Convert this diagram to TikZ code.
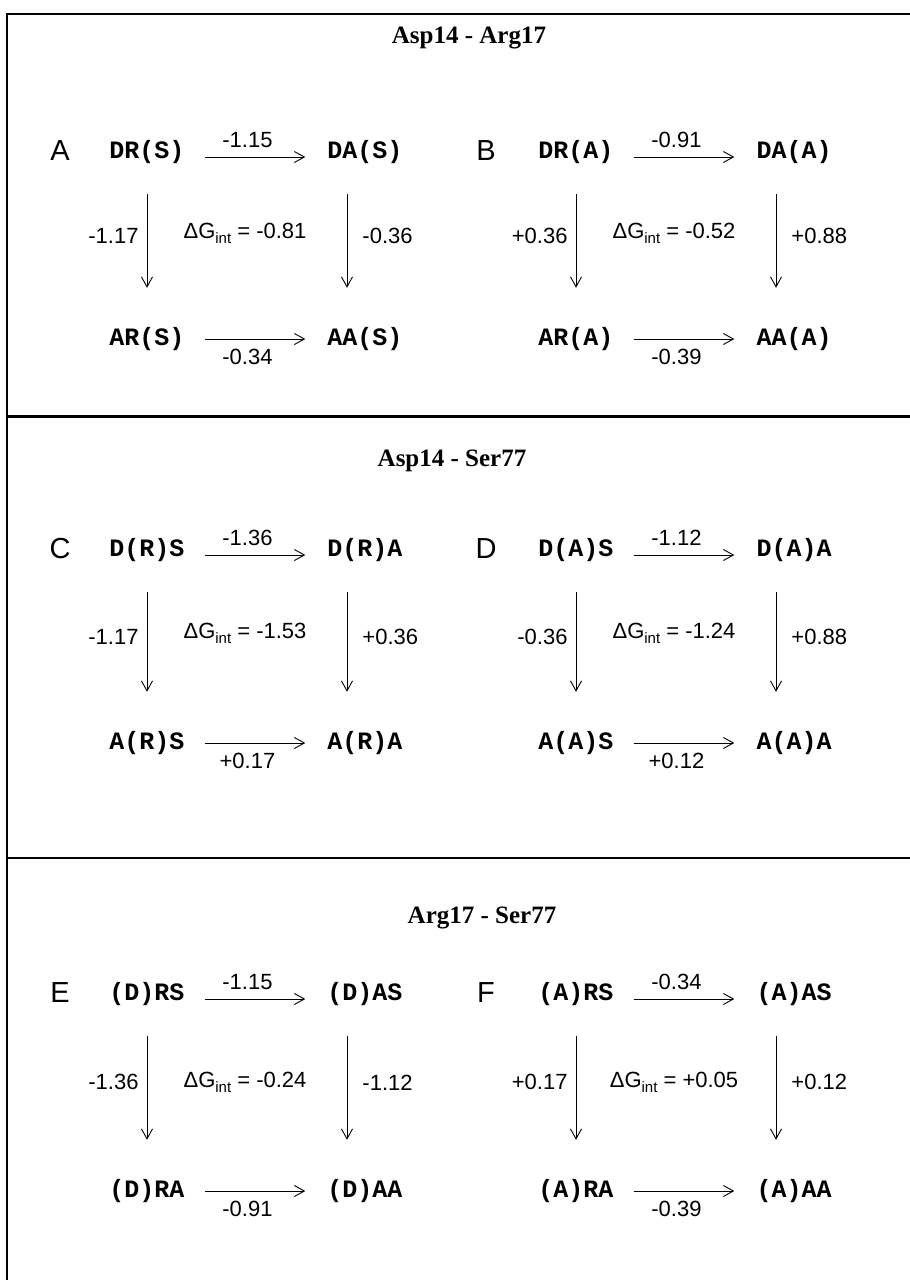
\documentclass[tikz,border=0pt]{standalone}
\usepackage{fontspec}
\setmainfont{Liberation Serif}
\newfontfamily\helv{Liberation Sans}
\newfontfamily\cour{Liberation Mono}
\usetikzlibrary{arrows.meta}
\newcommand{\dGint}{ΔG\raisebox{-5pt}{\fontsize{15pt}{15pt}\selectfont int}}

\begin{document}
\begin{tikzpicture}[x=1pt,y=-1pt,
  st/.style={inner sep=0pt,font=\cour\bfseries\fontsize{25pt}{25pt}\selectfont,text height=14pt,text depth=0pt},
  lett/.style={inner sep=0pt,font=\helv\fontsize{29pt}{29pt}\selectfont},
  num/.style={inner sep=0pt,font=\helv\fontsize{22pt}{22pt}\selectfont},
  ttl/.style={inner sep=0pt,font=\bfseries\fontsize{25pt}{25pt}\selectfont},
  harr/.style={-{Straight Barb[length=10pt,width=11pt]},line width=0.9pt,shorten <=20pt,shorten >=22pt},
  varr/.style={-{Straight Barb[length=10pt,width=11pt]},line width=0.9pt,shorten <=36pt,shorten >=43pt},
  uplbl/.style={num,pos=0.44,anchor=south,yshift=9pt},
  dnlbl/.style={num,pos=0.44,anchor=north,yshift=-10pt},
  lflbl/.style={num,pos=0.45,anchor=east,xshift=-8pt},
  rtlbl/.style={num,pos=0.45,anchor=west,xshift=15pt}]
\useasboundingbox (0,0) rectangle (910,1280);
% frame and dividers
\draw[line width=2.3pt] (7,1280) -- (7,14) -- (910,14);
\draw[line width=3pt] (7,416) -- (910,416);
\draw[line width=2pt] (7,858) -- (910,858);

% Asp14 - Arg17
\node[ttl] (t1) at (469,38) {Asp14 - Arg17};
\node[lett] (labA) at (60,151) {A};
\node[st] (a1) at (147,151) {DR(S)};
\node[st] (a2) at (365,151) {DA(S)};
\node[st] (a3) at (147,338) {AR(S)};
\node[st] (a4) at (365,338) {AA(S)};
\draw[harr] ([yshift=-6pt]a1.east) -- node[uplbl] {-1.15} ([yshift=-6pt]a2.west);
\draw[harr] ([yshift=-1pt]a3.east) -- node[dnlbl] {-0.34} ([yshift=-1pt]a4.west);
\draw[varr] (a1.south) -- node[lflbl] {-1.17} (a3.north);
\draw[varr] ([xshift=-18pt]a2.south) -- node[rtlbl] {-0.36} ([xshift=-18pt]a4.north);
\node[num] (gA) at (245,233) {\dGint{} = -0.81};

\node[lett] (labB) at (486,151) {B};
\node[st] (b1) at (576,151) {DR(A)};
\node[st] (b2) at (794,151) {DA(A)};
\node[st] (b3) at (576,338) {AR(A)};
\node[st] (b4) at (794,338) {AA(A)};
\draw[harr] ([yshift=-6pt]b1.east) -- node[uplbl] {-0.91} ([yshift=-6pt]b2.west);
\draw[harr] ([yshift=-1pt]b3.east) -- node[dnlbl] {-0.39} ([yshift=-1pt]b4.west);
\draw[varr] (b1.south) -- node[lflbl] {+0.36} (b3.north);
\draw[varr] ([xshift=-18pt]b2.south) -- node[rtlbl] {+0.88} ([xshift=-18pt]b4.north);
\node[num] (gB) at (674,233) {\dGint{} = -0.52};

% Asp14 - Ser77
\node[ttl] (t2) at (452,461) {Asp14 - Ser77};
\node[lett] (labC) at (60,549) {C};
\node[st] (c1) at (147,549) {D(R)S};
\node[st] (c2) at (365,549) {D(R)A};
\node[st] (c3) at (147,742) {A(R)S};
\node[st] (c4) at (365,742) {A(R)A};
\draw[harr] ([yshift=-6pt]c1.east) -- node[uplbl] {-1.36} ([yshift=-6pt]c2.west);
\draw[harr] ([yshift=-1pt]c3.east) -- node[dnlbl] {+0.17} ([yshift=-1pt]c4.west);
\draw[varr] (c1.south) -- node[lflbl] {-1.17} (c3.north);
\draw[varr] ([xshift=-18pt]c2.south) -- node[rtlbl] {+0.36} ([xshift=-18pt]c4.north);
\node[num] (gC) at (245,633) {\dGint{} = -1.53};

\node[lett] (labD) at (486,549) {D};
\node[st] (d1) at (576,549) {D(A)S};
\node[st] (d2) at (794,549) {D(A)A};
\node[st] (d3) at (576,742) {A(A)S};
\node[st] (d4) at (794,742) {A(A)A};
\draw[harr] ([yshift=-6pt]d1.east) -- node[uplbl] {-1.12} ([yshift=-6pt]d2.west);
\draw[harr] ([yshift=-1pt]d3.east) -- node[dnlbl] {+0.12} ([yshift=-1pt]d4.west);
\draw[varr] (d1.south) -- node[lflbl] {-0.36} (d3.north);
\draw[varr] ([xshift=-18pt]d2.south) -- node[rtlbl] {+0.88} ([xshift=-18pt]d4.north);
\node[num] (gD) at (674,633) {\dGint{} = -1.24};

% Arg17 - Ser77
\node[ttl] (t3) at (482,918) {Arg17 - Ser77};
\node[lett] (labE) at (60,993) {E};
\node[st] (e1) at (147,993) {(D)RS};
\node[st] (e2) at (365,993) {(D)AS};
\node[st] (e3) at (147,1190) {(D)RA};
\node[st] (e4) at (365,1190) {(D)AA};
\draw[harr] ([yshift=-6pt]e1.east) -- node[uplbl] {-1.15} ([yshift=-6pt]e2.west);
\draw[harr] ([yshift=-1pt]e3.east) -- node[dnlbl] {-0.91} ([yshift=-1pt]e4.west);
\draw[varr] (e1.south) -- node[lflbl] {-1.36} (e3.north);
\draw[varr] ([xshift=-18pt]e2.south) -- node[rtlbl] {-1.12} ([xshift=-18pt]e4.north);
\node[num] (gE) at (245,1082) {\dGint{} = -0.24};

\node[lett] (labF) at (486,993) {F};
\node[st] (f1) at (576,993) {(A)RS};
\node[st] (f2) at (794,993) {(A)AS};
\node[st] (f3) at (576,1190) {(A)RA};
\node[st] (f4) at (794,1190) {(A)AA};
\draw[harr] ([yshift=-6pt]f1.east) -- node[uplbl] {-0.34} ([yshift=-6pt]f2.west);
\draw[harr] ([yshift=-1pt]f3.east) -- node[dnlbl] {-0.39} ([yshift=-1pt]f4.west);
\draw[varr] (f1.south) -- node[lflbl] {+0.17} (f3.north);
\draw[varr] ([xshift=-18pt]f2.south) -- node[rtlbl] {+0.12} ([xshift=-18pt]f4.north);
\node[num] (gF) at (674,1082) {\dGint{} = +0.05};
\end{tikzpicture}
\end{document}
